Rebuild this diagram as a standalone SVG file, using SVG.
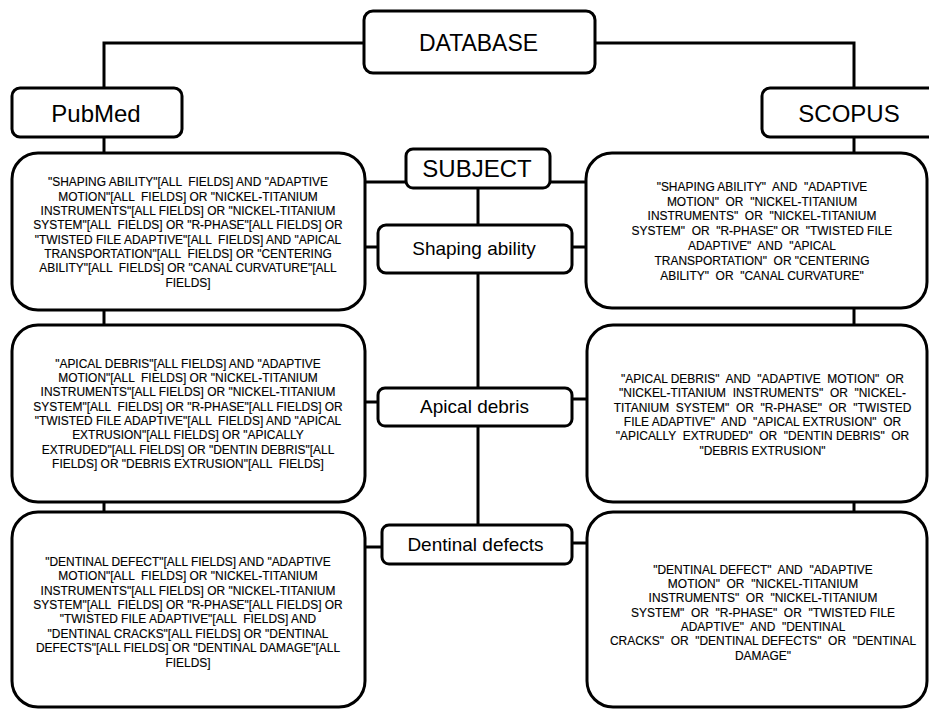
<svg xmlns="http://www.w3.org/2000/svg" width="929" height="709" viewBox="0 0 929 709">
<style>
.box{fill:#fff;stroke:#000;stroke-width:3}
.ln{stroke:#000;stroke-width:3;fill:none}
.t{font-family:"Liberation Sans",Arial,sans-serif;fill:#000;text-anchor:middle}
.h{font-size:24px}
.s{font-size:19px}
.b{font-size:13px;white-space:pre;stroke:#000;stroke-width:0.15}
</style>
<rect width="929" height="709" fill="#fff"/>
<g id="connectors">
<polyline class="ln" points="364,43 104,43 104,88"/>
<polyline class="ln" points="595,43 854,43 854,88"/>
<line class="ln" x1="104" y1="137" x2="104" y2="153"/>
<line class="ln" x1="854" y1="137" x2="854" y2="153"/>
<line class="ln" x1="104" y1="310" x2="104" y2="325"/>
<line class="ln" x1="104" y1="502" x2="104" y2="512"/>
<line class="ln" x1="854" y1="308" x2="854" y2="325"/>
<line class="ln" x1="854" y1="502" x2="854" y2="512"/>
<line class="ln" x1="365" y1="182" x2="406" y2="182"/>
<line class="ln" x1="550" y1="182" x2="586" y2="182"/>
<line class="ln" x1="478" y1="188" x2="478" y2="225"/>
<line class="ln" x1="478" y1="273" x2="478" y2="388"/>
<line class="ln" x1="478" y1="426" x2="478" y2="525"/>
<line class="ln" x1="365" y1="247" x2="378" y2="247"/>
<line class="ln" x1="572" y1="247" x2="586" y2="247"/>
<line class="ln" x1="365" y1="402" x2="378" y2="402"/>
<line class="ln" x1="572" y1="399" x2="587" y2="399"/>
<line class="ln" x1="365" y1="547" x2="382" y2="547"/>
<line class="ln" x1="572" y1="543" x2="587" y2="543"/>
</g>
<g id="database">
<rect class="box" x="364" y="11" width="231" height="62" rx="9"/>
<text class="t h" x="478.5" y="51" textLength="119" lengthAdjust="spacingAndGlyphs">DATABASE</text>
</g>
<g id="pubmed">
<rect class="box" x="12" y="88" width="170" height="49" rx="8"/>
<text class="t h" x="96" y="121.5">PubMed</text>
</g>
<g id="scopus">
<rect class="box" x="762" y="88" width="180" height="49" rx="8"/>
<text class="t h" x="849" y="121.5">SCOPUS</text>
</g>
<g id="subject">
<rect class="box" x="406" y="149" width="144" height="39" rx="7"/>
<text class="t h" x="477" y="176.5">SUBJECT</text>
</g>
<g id="shaping">
<rect class="box" x="378" y="225" width="194" height="48" rx="8"/>
<text class="t s" x="474" y="255">Shaping ability</text>
</g>
<g id="apical">
<rect class="box" x="378" y="388" width="194" height="38" rx="7"/>
<text class="t s" x="474.5" y="413.3">Apical debris</text>
</g>
<g id="dentinal">
<rect class="box" x="382" y="525" width="190" height="39" rx="7"/>
<text class="t s" x="475.5" y="550.7">Dentinal defects</text>
</g>
<g id="pubmed-shaping">
<rect class="box" x="12" y="153" width="353" height="157" rx="26"/>
<g transform="matrix(0.92 0 0 1 15.04 0)">
<text class="t b" x="188" y="186.5">"SHAPING ABILITY"[ALL  FIELDS] AND "ADAPTIVE</text>
<text class="t b" x="188" y="200.8">MOTION"[ALL  FIELDS] OR "NICKEL-TITANIUM</text>
<text class="t b" x="188" y="215.1">INSTRUMENTS"[ALL FIELDS] OR "NICKEL-TITANIUM</text>
<text class="t b" x="188" y="229.4">SYSTEM"[ALL  FIELDS] OR "R-PHASE"[ALL FIELDS] OR</text>
<text class="t b" x="188" y="243.7">"TWISTED FILE ADAPTIVE"[ALL  FIELDS] AND "APICAL</text>
<text class="t b" x="188" y="258">TRANSPORTATION"[ALL  FIELDS] OR "CENTERING</text>
<text class="t b" x="188" y="272.3">ABILITY"[ALL  FIELDS] OR "CANAL CURVATURE"[ALL</text>
<text class="t b" x="188" y="286.6">FIELDS]</text>
</g>
</g>
<g id="scopus-shaping">
<rect class="box" x="586" y="153" width="341" height="155" rx="26"/>
<g transform="matrix(0.92 0 0 1 60.96 0)">
<text class="t b" x="762" y="190.8">"SHAPING ABILITY"  AND  "ADAPTIVE</text>
<text class="t b" x="762" y="205.6">MOTION"  OR  "NICKEL-TITANIUM</text>
<text class="t b" x="762" y="220.4">INSTRUMENTS"  OR  "NICKEL-TITANIUM</text>
<text class="t b" x="762" y="235.2">SYSTEM"  OR  "R-PHASE" OR  "TWISTED FILE</text>
<text class="t b" x="762" y="250">ADAPTIVE"  AND  "APICAL</text>
<text class="t b" x="762" y="264.8">TRANSPORTATION"  OR "CENTERING</text>
<text class="t b" x="762" y="279.6">ABILITY"  OR  "CANAL CURVATURE"</text>
</g>
</g>
<g id="pubmed-apical">
<rect class="box" x="12" y="325" width="353" height="177" rx="26"/>
<g transform="matrix(0.92 0 0 1 15.04 0)">
<text class="t b" x="188" y="367.8">"APICAL DEBRIS"[ALL FIELDS] AND "ADAPTIVE</text>
<text class="t b" x="188" y="382.1">MOTION"[ALL  FIELDS] OR "NICKEL-TITANIUM</text>
<text class="t b" x="188" y="396.4">INSTRUMENTS"[ALL FIELDS] OR "NICKEL-TITANIUM</text>
<text class="t b" x="188" y="410.7">SYSTEM"[ALL  FIELDS] OR "R-PHASE"[ALL FIELDS] OR</text>
<text class="t b" x="188" y="425">"TWISTED FILE ADAPTIVE"[ALL  FIELDS] AND "APICAL</text>
<text class="t b" x="188" y="439.3">EXTRUSION"[ALL FIELDS] OR "APICALLY</text>
<text class="t b" x="188" y="453.6">EXTRUDED"[ALL FIELDS] OR "DENTIN DEBRIS"[ALL</text>
<text class="t b" x="188" y="467.9">FIELDS] OR "DEBRIS EXTRUSION"[ALL  FIELDS]</text>
</g>
</g>
<g id="scopus-apical">
<rect class="box" x="587" y="325" width="340" height="177" rx="26"/>
<g transform="matrix(0.92 0 0 1 61 0)">
<text class="t b" x="762.5" y="382.8">"APICAL DEBRIS"  AND  "ADAPTIVE  MOTION"  OR</text>
<text class="t b" x="762.5" y="397.2">"NICKEL-TITANIUM  INSTRUMENTS"  OR  "NICKEL-</text>
<text class="t b" x="762.5" y="411.6">TITANIUM  SYSTEM"  OR  "R-PHASE"  OR  "TWISTED</text>
<text class="t b" x="762.5" y="426">FILE ADAPTIVE"  AND  "APICAL EXTRUSION"  OR</text>
<text class="t b" x="762.5" y="440.4">"APICALLY  EXTRUDED"  OR  "DENTIN DEBRIS"  OR</text>
<text class="t b" x="762.5" y="454.8">"DEBRIS EXTRUSION"</text>
</g>
</g>
<g id="pubmed-dentinal">
<rect class="box" x="12" y="512" width="353" height="195" rx="26"/>
<g transform="matrix(0.92 0 0 1 15.04 0)">
<text class="t b" x="188" y="565.8">"DENTINAL DEFECT"[ALL FIELDS] AND "ADAPTIVE</text>
<text class="t b" x="188" y="580.2">MOTION"[ALL  FIELDS] OR "NICKEL-TITANIUM</text>
<text class="t b" x="188" y="594.6">INSTRUMENTS"[ALL FIELDS] OR "NICKEL-TITANIUM</text>
<text class="t b" x="188" y="609">SYSTEM"[ALL  FIELDS] OR "R-PHASE"[ALL FIELDS] OR</text>
<text class="t b" x="188" y="623.4">"TWISTED FILE ADAPTIVE"[ALL  FIELDS] AND</text>
<text class="t b" x="188" y="637.8">"DENTINAL CRACKS"[ALL FIELDS] OR "DENTINAL</text>
<text class="t b" x="188" y="652.2">DEFECTS"[ALL FIELDS] OR "DENTINAL DAMAGE"[ALL</text>
<text class="t b" x="188" y="666.6">FIELDS]</text>
</g>
</g>
<g id="scopus-dentinal">
<rect class="box" x="587" y="512" width="340" height="195" rx="26"/>
<g transform="matrix(0.92 0 0 1 61.04 0)">
<text class="t b" x="763" y="573.8">"DENTINAL DEFECT"  AND  "ADAPTIVE</text>
<text class="t b" x="763" y="588.1">MOTION"  OR  "NICKEL-TITANIUM</text>
<text class="t b" x="763" y="602.4">INSTRUMENTS"  OR  "NICKEL-TITANIUM</text>
<text class="t b" x="763" y="616.7">SYSTEM"  OR  "R-PHASE"  OR  "TWISTED FILE</text>
<text class="t b" x="763" y="631">ADAPTIVE"  AND  "DENTINAL</text>
<text class="t b" x="763" y="645.3">CRACKS"  OR  "DENTINAL DEFECTS"  OR  "DENTINAL</text>
<text class="t b" x="763" y="659.6">DAMAGE"</text>
</g>
</g>
</svg>
